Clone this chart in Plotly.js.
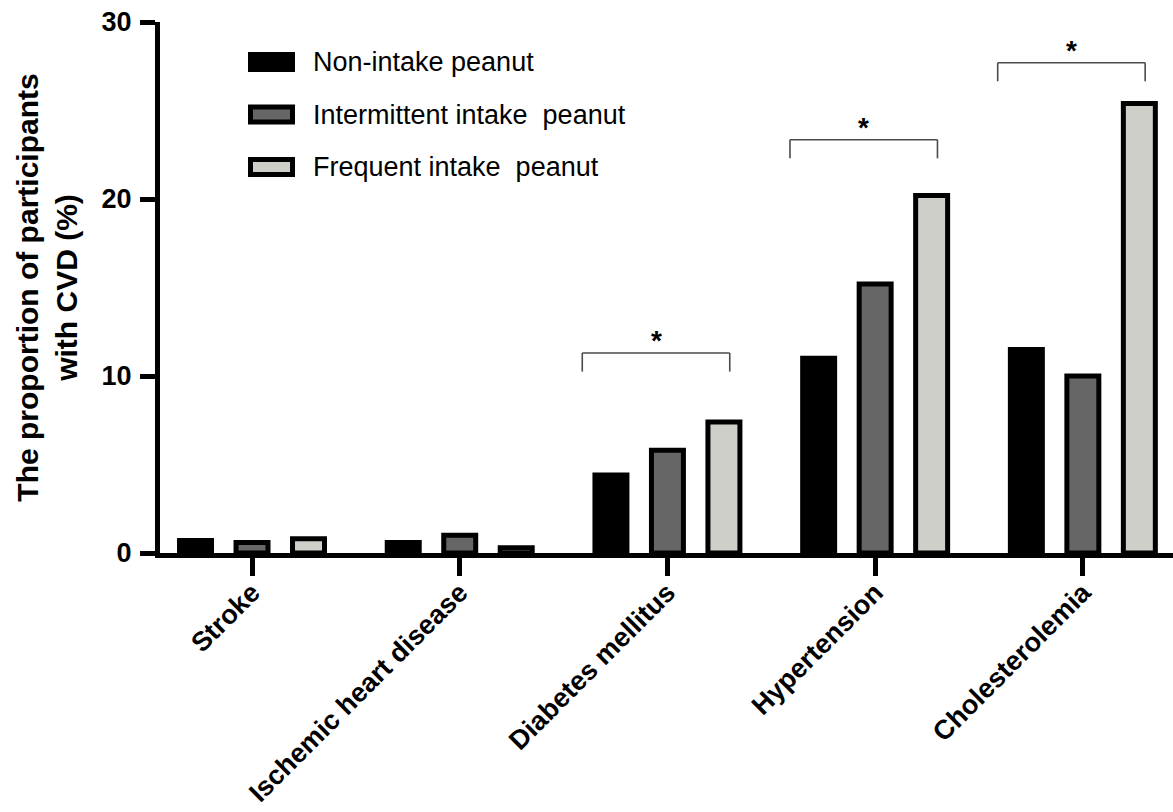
<!DOCTYPE html>
<html>
<head>
<meta charset="utf-8">
<script src="https://cdn.plot.ly/plotly-3.0.1.min.js"></script>
<style>html,body{margin:0;padding:0;background:#fff;}#chart{width:1173px;height:812px;}</style>
</head>
<body>
<div id="chart"></div>
<script>
// ---- data ----
const categories = ['Stroke', 'Ischemic heart disease', 'Diabetes mellitus', 'Hypertension', 'Cholesterolemia'];
const nonIntake = [0.7, 0.6, 4.4, 11.0, 11.5];
const intermittent = [0.6, 1.0, 5.8, 15.2, 10.0];
const frequent = [0.8, 0.3, 7.4, 20.2, 25.4];
const seriesNames = ['Non-intake peanut', 'Intermittent intake \u00a0peanut', 'Frequent intake \u00a0peanut'];
const seriesColors = ['#000000', '#666666', '#cfcfca'];
const sigCategories = ['Diabetes mellitus', 'Hypertension', 'Cholesterolemia'];
const sigLabels = ['*', '*', '*'];
const yTickVals = [0, 10, 20, 30];
const yTitle = 'The proportion of participants<br>with CVD (%)';

// ---- chart ----
const FONT = 'Liberation Sans, Arial, sans-serif';
const seriesValues = [nonIntake, intermittent, frequent];

const traces = seriesValues.map((vals, i) => ({
  type: 'bar',
  x: categories,
  y: vals,
  name: seriesNames[i],
  marker: { color: seriesColors[i], line: { color: '#000', width: 5 } },
  showlegend: false,
  hoverinfo: 'x+y+name'
}));

const shapes = [];
const annotations = [];

// significance brackets
const bracketTop = [11.3, 23.35, 27.7];
sigCategories.forEach((cat, k) => {
  const c = categories.indexOf(cat);
  const xl = c - 0.41, xr = c + 0.30;
  const yt = bracketTop[k], yb = yt - 1.05;
  const ln = { color: '#4a4a4a', width: 1.6 };
  shapes.push({ type: 'line', xref: 'x', yref: 'y', x0: xl, x1: xr, y0: yt, y1: yt, line: ln });
  shapes.push({ type: 'line', xref: 'x', yref: 'y', x0: xl, x1: xl, y0: yt, y1: yb, line: ln });
  shapes.push({ type: 'line', xref: 'x', yref: 'y', x0: xr, x1: xr, y0: yt, y1: yb, line: ln });
  annotations.push({
    xref: 'x', yref: 'y', x: c - 0.055, y: yt + 1.0, text: sigLabels[k], showarrow: false,
    font: { family: FONT, size: 28, color: '#000', weight: 'bold' }, yshift: -5
  });
});

// custom legend (large rectangular swatches)
const plotL = 160, plotW = 1013, plotB = 553, plotH = 531;
const px2x = p => (p - plotL) / plotW;
const px2y = p => (plotB - p) / plotH;
seriesNames.forEach((nm, i) => {
  const top = 52 + i * 52.5;
  shapes.push({
    type: 'rect', xref: 'paper', yref: 'paper',
    x0: px2x(250.5), x1: px2x(292.5), y0: px2y(top + 2.5), y1: px2y(top + 17.5),
    fillcolor: seriesColors[i], line: { color: '#000', width: 5 }
  });
  annotations.push({
    xref: 'paper', yref: 'paper', x: px2x(311), y: px2y(top + 10), xanchor: 'left', yanchor: 'middle',
    text: nm, showarrow: false, font: { family: FONT, size: 27, color: '#000' }
  });
});

const layout = {
  width: 1173, height: 812,
  margin: { l: 160, r: 0, t: 22, b: 259, pad: 0 },
  paper_bgcolor: '#fff', plot_bgcolor: '#fff',
  barmode: 'group', bargap: 0.184, bargroupgap: 0.434,
  font: { family: FONT, color: '#000' },
  showlegend: false,
  xaxis: {
    type: 'category', range: [-0.443, 4.434],
    showline: true, linewidth: 5, linecolor: '#000',
    ticks: 'outside', ticklen: 18, tickwidth: 5, tickcolor: '#000',
    ticklabelstandoff: -10,
    tickangle: -45, tickfont: { family: FONT, size: 27, weight: 'bold', color: '#000' },
    showgrid: false, zeroline: false, fixedrange: true
  },
  yaxis: {
    range: [0, 30], tickvals: yTickVals, ticktext: yTickVals.map(String),
    showline: true, linewidth: 5, linecolor: '#000',
    ticks: 'outside', ticklen: 15, tickwidth: 5, tickcolor: '#000',
    ticklabelstandoff: 3,
    tickfont: { family: FONT, size: 27, weight: 'bold', color: '#000' },
    showgrid: false, zeroline: false, fixedrange: true,
    title: { text: yTitle, font: { family: FONT, size: 30, weight: 'bold', color: '#000' }, standoff: 17 }
  },
  shapes: shapes,
  annotations: annotations
};

Plotly.newPlot('chart', traces, layout, { displayModeBar: false, staticPlot: true });
</script>
</body>
</html>
